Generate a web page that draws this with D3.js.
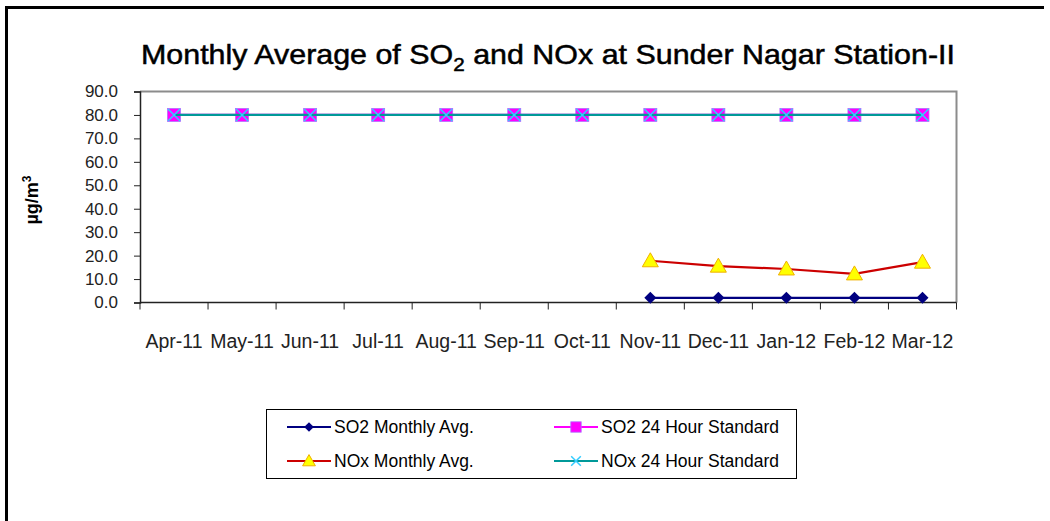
<!DOCTYPE html>
<html>
<head>
<meta charset="utf-8">
<script src="https://cdn.jsdelivr.net/npm/d3@7"></script>
<style>
  body { margin: 0; background: #fff; }
  svg { display: block; font-family: "Liberation Sans", Arial, sans-serif; }
</style>
</head>
<body>
<svg id="chart" width="1050" height="521"></svg>
<script>
// chart data
const months = ["Apr-11", "May-11", "Jun-11", "Jul-11", "Aug-11", "Sep-11",
  "Oct-11", "Nov-11", "Dec-11", "Jan-12", "Feb-12", "Mar-12"]
const so2Avg = [null, null, null, null, null, null, null, 2.0, 2.0, 2.0, 2.0, 2.0]
const noxAvg = [null, null, null, null, null, null, null, 17.8, 15.5, 14.3, 12.2, 17.2]
const so2Std = [80, 80, 80, 80, 80, 80, 80, 80, 80, 80, 80, 80]
const noxStd = [80, 80, 80, 80, 80, 80, 80, 80, 80, 80, 80, 80]
const yTicks = [0, 10, 20, 30, 40, 50, 60, 70, 80, 90]

const svg = d3.select("#chart")

// outer frame (right edge is cropped off in the original)
svg.append("path")
  .attr("d", "M6.5,521 L6.5,7.5 L1044,7.5")
  .attr("fill", "none")
  .attr("stroke", "#000")
  .attr("stroke-width", 3)

const plot = { left: 140, top: 91.5, right: 956.5, bottom: 302.5 }

const x = d3.scaleBand().domain(months).range([plot.left, plot.right])
const y = d3.scaleLinear().domain([0, 90]).range([plot.bottom, plot.top])
const cx = d => x(d) + x.bandwidth() / 2

// title
const title = svg.append("text")
  .attr("x", 548)
  .attr("y", 64)
  .attr("text-anchor", "middle")
  .style("font-size", "28px")
  .attr("fill", "#000")
  .attr("stroke", "#000")
  .attr("stroke-width", 0.5)
  .attr("textLength", 814)
  .attr("lengthAdjust", "spacingAndGlyphs")
title.append("tspan").text("Monthly Average of SO")
title.append("tspan").attr("dy", 7).style("font-size", "19px").text("2")
title.append("tspan").attr("dy", -7).text(" and NOx at Sunder Nagar Station-II")

// plot frame (gray top/right)
svg.append("path")
  .attr("d", `M${plot.left},${plot.top} L${plot.right},${plot.top} L${plot.right},${plot.bottom}`)
  .attr("fill", "none")
  .attr("stroke", "#8c8c8c")
  .attr("stroke-width", 2)

// y axis
const yAxis = svg.append("g")
  .attr("transform", `translate(${plot.left},0)`)
  .call(d3.axisLeft(y).tickValues(yTicks).tickFormat(d3.format(".1f")).tickSize(6).tickPadding(16))
yAxis.select(".domain").attr("stroke", "#222").attr("stroke-width", 1.5)
yAxis.selectAll(".tick line").attr("stroke", "#222")
yAxis.selectAll(".tick text")
  .style("font-size", "17px")
  .attr("fill", "#222")
  .attr("font-family", "Liberation Sans, Arial, sans-serif")

// x axis, ticks between categories
const xAxis = svg.append("g")
  .attr("transform", `translate(0,${plot.bottom})`)
xAxis.append("line")
  .attr("x1", plot.left).attr("x2", plot.right)
  .attr("stroke", "#222").attr("stroke-width", 1.5)
xAxis.selectAll("line.tk")
  .data(months.concat(["end"]))
  .enter().append("line")
  .attr("class", "tk")
  .attr("x1", (d, i) => plot.left + i * x.bandwidth())
  .attr("x2", (d, i) => plot.left + i * x.bandwidth())
  .attr("y1", 0).attr("y2", 7)
  .attr("stroke", "#222")
xAxis.selectAll("text")
  .data(months)
  .enter().append("text")
  .attr("x", d => cx(d))
  .attr("y", 45)
  .attr("text-anchor", "middle")
  .style("font-size", "19.5px")
  .attr("fill", "#222")
  .text(d => d)

// y axis title
const yt = svg.append("text")
  .attr("transform", "translate(38,200) rotate(-90)")
  .attr("text-anchor", "middle")
  .style("font-size", "18px")
  .style("font-weight", "bold")
  .attr("fill", "#000")
yt.append("tspan").text("µg/m")
yt.append("tspan").attr("dy", -7).style("font-size", "12px").text("3")

// series
const series = [
  { name: "SO2 Monthly Avg.", values: so2Avg, color: "#000080", marker: "diamond" },
  { name: "SO2 24 Hour Standard", values: so2Std, color: "#ff00ff", marker: "square" },
  { name: "NOx Monthly Avg.", values: noxAvg, color: "#cc0000", marker: "triangle" },
  { name: "NOx 24 Hour Standard", values: noxStd, color: "#009999", marker: "x" }
]

function drawMarker(g, type, px, py, k) {
  k = k || 1
  if (type === "diamond") {
    g.append("path")
      .attr("d", `M${px},${py - 6 * k} L${px + 6 * k},${py} L${px},${py + 6 * k} L${px - 6 * k},${py} Z`)
      .attr("fill", "#000080")
  } else if (type === "square") {
    g.append("rect")
      .attr("x", px - 6.5 * k).attr("y", py - 6.5 * k)
      .attr("width", 13 * k).attr("height", 13 * k)
      .attr("fill", "#ff00ff")
      .attr("stroke", "#b070ff").attr("stroke-width", 0.8)
  } else if (type === "triangle") {
    g.append("path")
      .attr("d", `M${px},${py - 8 * k} L${px + 8 * k},${py + 6 * k} L${px - 8 * k},${py + 6 * k} Z`)
      .attr("fill", "#ffff00")
      .attr("stroke", "#f0b000").attr("stroke-width", 1)
  } else if (type === "x") {
    g.append("path")
      .attr("d", `M${px - 6 * k},${py - 6 * k} L${px + 6 * k},${py + 6 * k} M${px + 6 * k},${py - 6 * k} L${px - 6 * k},${py + 6 * k}`)
      .attr("stroke", "#33ccff").attr("stroke-width", 1.5)
  }
}

const line = d3.line()
  .defined(d => d.v != null)
  .x(d => cx(d.m))
  .y(d => y(d.v))

series.forEach(s => {
  const pts = months.map((m, i) => ({ m: m, v: s.values[i] }))
  const g = svg.append("g")
  g.append("path")
    .datum(pts)
    .attr("d", line)
    .attr("fill", "none")
    .attr("stroke", s.color)
    .attr("stroke-width", 2.2)
  pts.filter(p => p.v != null).forEach(p => drawMarker(g, s.marker, cx(p.m), y(p.v)))
})

// legend
const lg = svg.append("g")
lg.append("rect")
  .attr("x", 266.5).attr("y", 409.5)
  .attr("width", 530).attr("height", 69)
  .attr("fill", "#fff")
  .attr("stroke", "#000").attr("stroke-width", 1)
const legPos = [[287, 427], [554, 427], [287, 461], [554, 461]]
series.forEach((s, i) => {
  const [lx, ly] = legPos[i]
  lg.append("line")
    .attr("x1", lx).attr("x2", lx + 44)
    .attr("y1", ly).attr("y2", ly)
    .attr("stroke", s.color).attr("stroke-width", 2)
  drawMarker(lg, s.marker, lx + 22, ly, 0.8)
  lg.append("text")
    .attr("x", lx + 47)
    .attr("y", ly + 6)
    .style("font-size", "17.5px")
    .attr("fill", "#000")
    .text(s.name)
})
</script>
</body>
</html>
